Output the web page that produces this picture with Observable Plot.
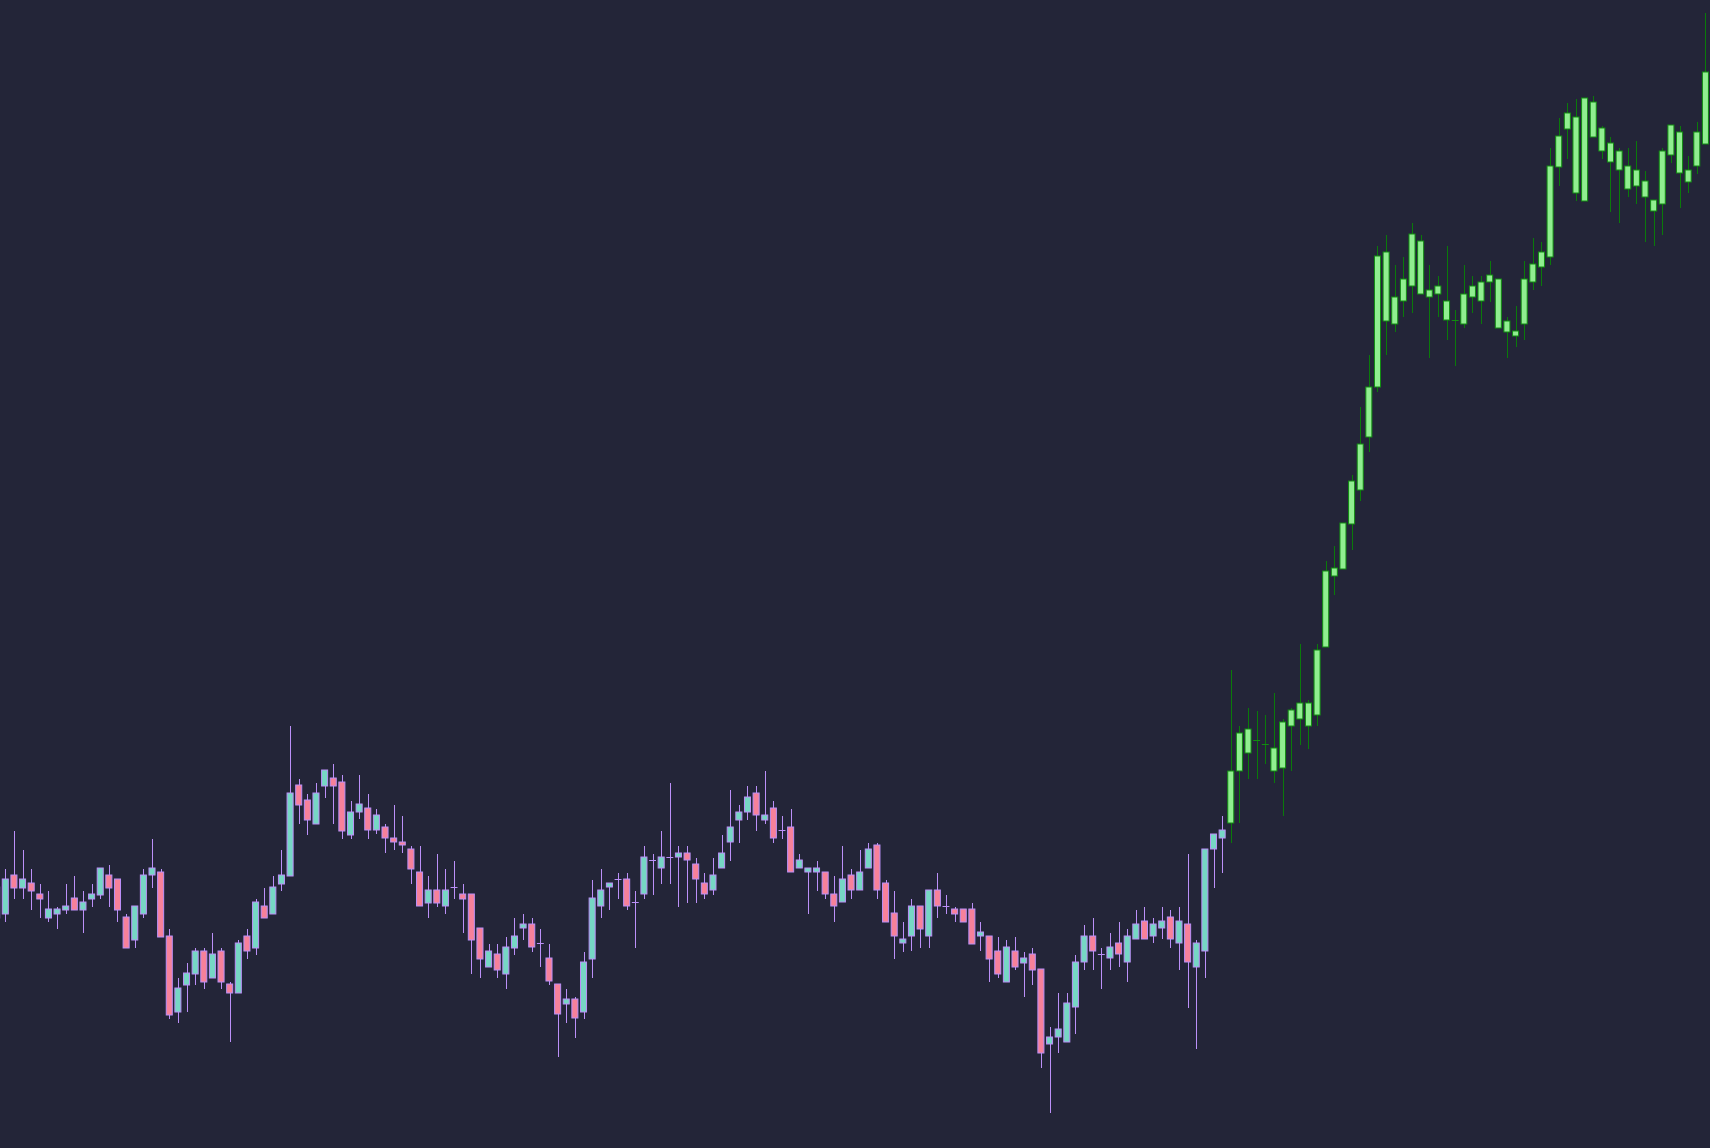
<!DOCTYPE html>
<html><head><meta charset="utf-8">
<script src="https://cdn.jsdelivr.net/npm/d3@7"></script>
<script src="https://cdn.jsdelivr.net/npm/@observablehq/plot@0.6"></script>
<style>html,body{margin:0;padding:0;background:#232538;overflow:hidden}#chart svg{display:block}</style>
</head><body><div id="chart"></div>
<script>
// OHLC values, one entry per session (index 0..198)
const open = [
230,234,273,260,265,254,230,234,238,250,
238,249,253,273,269,231,208,234,273,276,
212,136,163,174,197,170,197,164,155,212,
200,242,234,264,272,363,348,324,362,370,
366,313,336,340,318,321,310,306,299,276,
245,258,242,261,254,254,220,181,194,174,
200,220,224,205,190,164,144,149,136,189,
242,261,269,269,246,254,288,280,291,291,
295,284,265,258,280,306,328,336,355,328,
340,318,321,280,276,276,276,254,246,273,
258,280,303,265,235,205,212,242,212,258,
242,239,239,239,212,212,197,166,197,185,
194,179,104,111,106,141,186,212,194,190,
205,186,209,227,212,220,231,205,224,181,
197,299,310,325,377,419,408,404,400,380,
422,429,445,433,501,572,579,624,658,711,
761,896,851,847,862,907,858,854,847,828,
824,851,866,866,869,827,817,824,866,881,
891,981,1019,1031,947,1046,1020,1005,997,982,
962,967,948,944,993,1016,978,982,1004];
const high = [
268,279,317,298,279,264,257,241,264,272,
257,264,280,283,269,234,242,279,309,279,
219,170,185,200,200,215,200,166,208,219,
249,260,272,298,422,369,354,365,378,384,
373,347,373,354,339,324,343,332,302,302,
272,294,279,287,264,254,220,204,204,211,
230,234,230,219,204,164,159,151,196,268,
279,265,275,275,257,302,294,317,365,302,
302,290,275,290,313,358,343,362,362,377,
347,332,339,294,280,287,276,272,302,279,
298,305,305,268,257,226,249,242,258,275,
253,241,239,245,226,212,211,208,211,196,
200,179,121,155,155,193,223,230,200,215,
226,219,238,241,230,241,238,241,294,208,
299,314,332,478,422,440,437,433,455,429,
440,504,448,504,587,602,625,673,741,793,
902,913,883,891,925,913,883,872,902,838,
883,872,872,887,869,831,842,887,910,906,
1000,1030,1045,1049,1050,1052,1022,1011,1000,1000,
1007,977,948,1000,1023,1022,992,1026,1135];
const low = [
223,226,249,249,238,230,226,219,234,238,
215,241,249,241,226,200,200,230,260,211,
129,125,136,163,159,170,159,106,155,189,
193,230,234,257,272,324,313,324,350,324,
309,309,329,309,314,295,298,295,264,242,
230,241,234,249,215,174,170,181,170,159,
193,208,196,181,163,91,125,110,129,170,
230,238,249,238,200,249,253,264,264,241,
245,245,249,253,280,287,305,328,317,324,
305,309,276,280,234,257,249,226,246,249,
258,280,249,226,189,196,197,200,200,230,
234,226,226,204,197,166,170,166,178,151,
163,80,35,95,106,114,178,178,159,178,
181,166,209,209,205,209,200,178,140,99,
170,260,275,305,325,369,369,384,365,332,
377,403,399,422,501,553,579,598,647,696,
756,793,816,831,835,854,790,831,808,782,
820,835,824,846,820,790,801,808,858,862,
883,962,989,947,947,1011,989,936,925,951,
944,906,902,913,985,940,955,974,1004];
const close = [
261,269,260,269,257,249,239,239,242,238,
246,254,280,260,238,200,242,273,280,211,
133,160,175,197,166,194,166,155,205,197,
246,230,261,273,355,343,328,355,378,362,
317,336,344,318,333,310,306,303,279,242,
258,245,258,261,249,208,189,197,178,201,
212,224,201,205,167,134,149,130,186,250,
258,265,269,242,246,291,288,291,291,295,
288,269,254,273,295,321,336,351,333,333,
310,318,276,288,280,280,254,242,269,258,
276,299,258,226,212,209,242,219,258,242,
242,234,226,204,216,189,174,201,181,190,
178,95,111,119,145,186,212,197,194,201,
194,212,224,209,224,227,209,227,186,205,
299,314,318,377,415,395,408,404,377,426,
438,445,422,498,577,580,625,667,704,761,
892,827,824,869,914,854,851,862,828,828,
854,862,847,873,820,816,812,869,884,896,
982,1012,1035,955,1050,1011,997,986,978,959,
978,951,937,997,1023,975,966,1016,1076];
// sessions from this index on are highlighted
const highlightStart = 143;

const colors = {
  bg: "#232538", up: "#76d7c4", down: "#f7819a", outline: "#bb90f8",
  hlFill: "#90ee90", hlOutline: "#128c12", hlWick: "#0a7a0a"
};

const data = open.map((o, i) => ({i, open: o, high: high[i], low: low[i], close: close[i], hl: i >= highlightStart}));
const bodies = data.filter(d => d.open !== d.close);
const dojis = data.filter(d => d.open === d.close);
const half = 0.35;

const chart = Plot.plot({
  width: 1710, height: 1148,
  marginTop: 0, marginRight: 0, marginBottom: 0, marginLeft: 0,
  style: {background: colors.bg},
  x: {domain: [0.386, 198.53], axis: null},
  y: {domain: [0, 1148], axis: null},
  color: {type: "identity"},
  marks: [
    Plot.ruleX(data, {x: "i", y1: "low", y2: "high",
      stroke: d => d.hl ? colors.hlWick : colors.outline, strokeWidth: 1, shapeRendering: "crispEdges"}),
    Plot.rect(bodies, {x1: d => d.i - half, x2: d => d.i + half, y1: "open", y2: "close",
      fill: d => d.hl ? colors.hlFill : (d.close > d.open ? colors.up : colors.down),
      stroke: d => d.hl ? colors.hlOutline : colors.outline, strokeWidth: 1}),
    Plot.ruleY(dojis, {y: "close", x1: d => d.i - 0.4, x2: d => d.i + 0.4,
      stroke: d => d.hl ? colors.hlOutline : colors.outline, strokeWidth: 1})
  ]
});
document.getElementById("chart").appendChild(chart);
</script>
</body></html>
